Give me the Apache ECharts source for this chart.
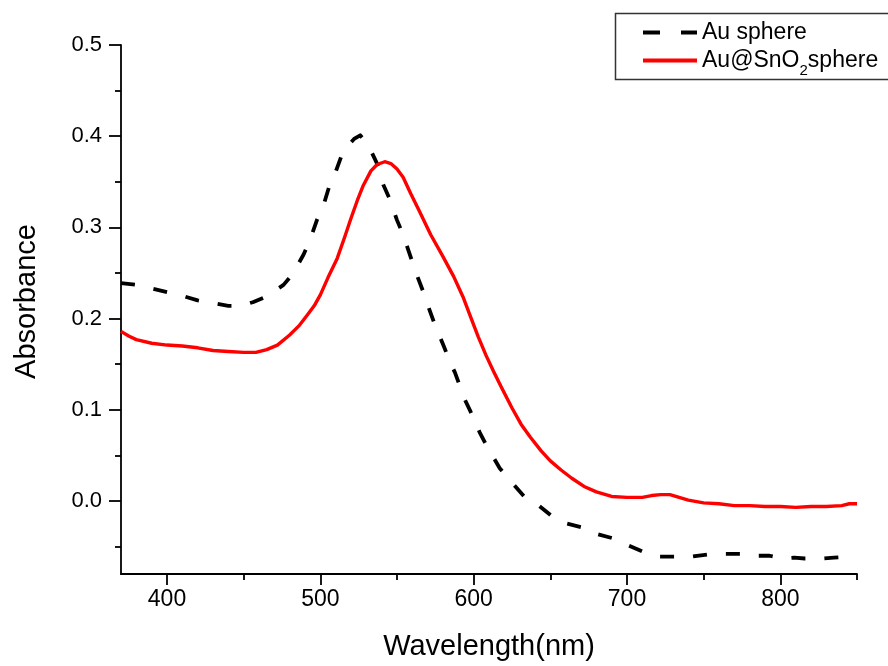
<!DOCTYPE html>
<html>
<head>
<meta charset="utf-8">
<script src="https://cdn.jsdelivr.net/npm/echarts@6/dist/echarts.min.js"></script>
<style>html,body{margin:0;padding:0;background:#fff}#c{width:888px;height:666px}</style>
</head>
<body>
<div id="c"></div>
<script>
// Wavelength (nm) / absorbance
const auX = [370,380,390,400,410,420,430,440,448,456,463,470,476,482,489,493,498,502,506,510,515,522,526,530,533,537,541,545,550,554,558,562,567,570,575,580,584,588,594,598,604,609,617,623,633,641,652,659,671,678,691,700,711,720,735,742,755,765,775,785,793,801,809,816,827,835,845,850];
const auY = [0.239,0.237,0.233,0.229,0.225,0.220,0.217,0.214,0.214,0.218,0.223,0.230,0.237,0.249,0.270,0.285,0.309,0.324,0.346,0.361,0.384,0.397,0.401,0.393,0.384,0.370,0.347,0.332,0.308,0.292,0.272,0.252,0.230,0.215,0.192,0.172,0.155,0.140,0.112,0.098,0.075,0.059,0.036,0.024,0.005,-0.003,-0.018,-0.024,-0.029,-0.035,-0.041,-0.048,-0.056,-0.061,-0.061,-0.061,-0.058,-0.058,-0.058,-0.060,-0.060,-0.063,-0.062,-0.063,-0.063,-0.062,-0.061,-0.063];

const snX = [370,375,380,390,400,410,420,430,440,450,458,465,472,480,486,492,496,500,505,511,516,520,524,528,533,537,542,546,550,554,559,564,572,580,587,593,598,603,608,613,618,625,631,637,644,650,657,664,672,680,690,700,710,716,722,728,734,740,750,760,770,780,790,800,810,820,830,840,845,850];
const snY = [0.186,0.181,0.177,0.173,0.171,0.170,0.168,0.165,0.164,0.163,0.163,0.166,0.171,0.182,0.192,0.205,0.214,0.226,0.245,0.266,0.290,0.310,0.329,0.346,0.362,0.369,0.372,0.370,0.364,0.355,0.337,0.320,0.292,0.268,0.246,0.224,0.202,0.180,0.160,0.142,0.125,0.102,0.084,0.070,0.055,0.044,0.034,0.025,0.016,0.010,0.005,0.004,0.004,0.006,0.007,0.007,0.004,0.001,-0.002,-0.003,-0.005,-0.005,-0.006,-0.006,-0.007,-0.006,-0.006,-0.005,-0.003,-0.003];

const xMajor = [400,500,600,700,800];
const xMinor = [450,550,650,750,850];
const yMajor = [0.0,0.1,0.2,0.3,0.4,0.5];
const yMinor = [-0.05,0.05,0.15,0.25,0.35,0.45];

const seriesNames = ['Au sphere','Au@SnO2sphere'];

const zip = (a,b) => a.map((v,i) => [v,b[i]]);
const F = 'Liberation Sans, Arial, sans-serif';

const chart = echarts.init(document.getElementById('c'), null, {renderer:'canvas'});
const axLine = {show:true, onZero:false, lineStyle:{color:'#000', width:1.8}};
chart.setOption({
  animation:false,
  backgroundColor:'#fff',
  grid:{left:121, right:31, top:45, bottom:87, containLabel:false},
  graphic:[{type:'rect', shape:{x:615.5, y:13.5, width:300, height:66}, style:{fill:'#fff', stroke:'#333', lineWidth:1.5}, z:1}],
  legend:{
    orient:'vertical', left:643, top:21, padding:0, itemWidth:54, itemHeight:4, itemGap:5, z:5,
    data:[
      {name:seriesNames[0], icon:'path://M0,0h17v4h-17zM38,0h16v4h-16z', itemStyle:{color:'#000', opacity:1}},
      {name:seriesNames[1], icon:'path://M0,0h54v4h-54z', itemStyle:{color:'#ff0000', opacity:1}}
    ],
    formatter: n => n === seriesNames[1] ? '{a|Au@SnO}{s|2}{a|sphere}' : '{a|' + n + '}',
    textStyle:{fontFamily:F, color:'#000', fontSize:23, lineHeight:23,
      rich:{a:{fontFamily:F, fontSize:23, color:'#000', lineHeight:23},
            s:{fontFamily:F, fontSize:15, color:'#000', lineHeight:23, verticalAlign:'bottom', padding:[0,0,-6,0]}}}
  },
  xAxis:[{
    type:'value', min:370, max:850, position:'bottom',
    name:'Wavelength(nm)', nameLocation:'middle', nameGap:58,
    nameTextStyle:{fontFamily:F, fontSize:29, color:'#000'},
    axisLine:axLine,
    axisTick:{show:true, inside:false, length:11, customValues:xMajor, lineStyle:{color:'#000', width:1.8}},
    axisLabel:{show:true, customValues:xMajor, margin:14, fontFamily:F, fontSize:23, color:'#000'},
    splitLine:{show:false}
  },{
    type:'value', min:370, max:850, position:'bottom',
    axisLine:{show:false, onZero:false},
    axisTick:{show:true, length:6, customValues:xMinor, lineStyle:{color:'#000', width:1.8}},
    axisLabel:{show:false}, splitLine:{show:false}
  }],
  yAxis:[{
    type:'value', min:-0.08, max:0.5, position:'left',
    name:'Absorbance', nameLocation:'middle', nameGap:80,
    nameTextStyle:{fontFamily:F, fontSize:29, color:'#000', padding:[0,0,0,16]},
    axisLine:axLine,
    axisTick:{show:true, length:12, customValues:yMajor, lineStyle:{color:'#000', width:1.8}},
    axisLabel:{show:true, customValues:yMajor, margin:19, fontFamily:F, fontSize:22, color:'#000',
      formatter:v => v.toFixed(1)},
    splitLine:{show:false}
  },{
    type:'value', min:-0.08, max:0.5, position:'left',
    axisLine:{show:false, onZero:false},
    axisTick:{show:true, length:6, customValues:yMinor, lineStyle:{color:'#000', width:1.8}},
    axisLabel:{show:false}, splitLine:{show:false}
  }],
  series:[
    {name:seriesNames[0], type:'line', xAxisIndex:0, yAxisIndex:0, data:zip(auX,auY), showSymbol:false, symbol:'none',
     smooth:false, color:'#000', lineStyle:{color:'#000', width:3.8, type:[14,19], cap:'butt', join:'round'}, z:3},
    {name:seriesNames[1], type:'line', xAxisIndex:0, yAxisIndex:0, data:zip(snX,snY), showSymbol:false, symbol:'none',
     smooth:false, color:'#ff0000', lineStyle:{color:'#ff0000', width:3.4, join:'round'}, z:4}
  ]
});
</script>
</body>
</html>
